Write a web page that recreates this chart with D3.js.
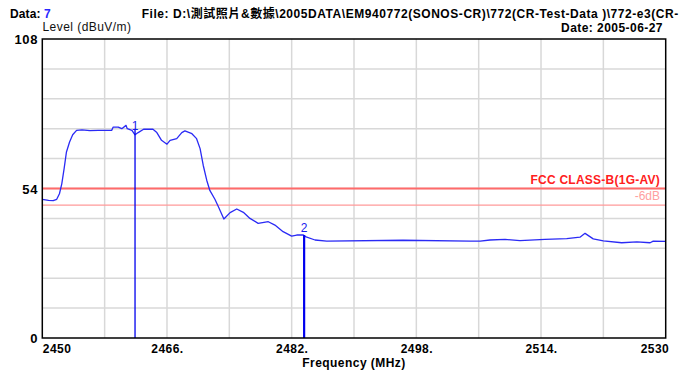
<!DOCTYPE html>
<html>
<head>
<meta charset="utf-8">
<script src="https://cdn.jsdelivr.net/npm/d3@7"></script>
<style>
  html, body { margin: 0; padding: 0; background: #fff; }
  svg { display: block; }
  text { font-family: "Liberation Sans", Arial, "Noto Sans CJK TC", sans-serif; }
</style>
</head>
<body>
<script>
// Measured field strength trace (frequency in MHz, level in dBuV/m)
const freq = [2450.0, 2450.8, 2451.4, 2451.85, 2452.2, 2452.5, 2452.8, 2453.1, 2453.5, 2453.9,
  2454.4, 2455.1, 2456.1, 2457.2, 2458.3, 2458.9, 2459.1, 2459.75, 2460.2, 2460.75,
  2460.9, 2461.5, 2461.9, 2462.3, 2463.0, 2463.6, 2464.2, 2464.7, 2465.3, 2466.0,
  2466.4, 2467.25, 2467.9, 2468.3, 2469.2, 2469.8, 2470.25, 2470.65, 2471.1, 2471.5,
  2472.15, 2472.6, 2473.3, 2474.1, 2474.95, 2475.8, 2476.65, 2477.7, 2479.0, 2479.85,
  2480.9, 2482.0, 2482.65, 2483.5, 2483.85, 2485.0, 2486.5, 2496.3, 2504.9, 2506.2,
  2507.45, 2509.4, 2511.3, 2514.5, 2517.3, 2519.0, 2519.65, 2520.7, 2522.0, 2524.35,
  2526.3, 2528.0, 2528.4, 2530.0];
const level = [50.1, 49.7, 49.6, 50.1, 52.1, 55.7, 61.2, 67.2, 70.8, 73.4,
  75.0, 75.2, 74.9, 75.0, 75.0, 75.0, 76.2, 76.2, 75.6, 76.8,
  75.6, 75.0, 73.4, 74.2, 75.4, 75.4, 75.4, 74.2, 71.4, 70.0,
  71.4, 72.0, 74.2, 74.8, 73.8, 72.0, 68.4, 62.4, 57.0, 53.3,
  50.1, 47.4, 43.0, 45.3, 46.6, 45.4, 43.2, 41.4, 42.0, 40.8,
  38.4, 36.8, 37.2, 37.2, 36.5, 35.4, 35.0, 35.3, 35.0, 35.0,
  35.4, 35.6, 35.2, 35.6, 35.9, 36.4, 37.8, 35.8, 35.1, 34.4,
  34.7, 34.4, 35.0, 34.9];

// Markers
const markerNames = ["1", "2"];
const markerFreq = [2461.9, 2483.6];
const markerLevel = [73.4, 37.2];

// Limit lines
const limitNames = ["FCC CLASS-B(1G-AV)", "-6dB"];
const limitLevel = [54, 48];

// Axis ticks
const xTicks = [2450, 2466, 2482, 2498, 2514, 2530];
const xTickLabels = ["2450", "2466.", "2482.", "2498.", "2514.", "2530"];
const yTicks = [0, 54, 108];
const xGrid = d3.range(2450, 2530.1, 8);
const yGrid = d3.range(0, 108.01, 10.8);

const W = 682, H = 374;
const x = d3.scaleLinear().domain([2450, 2530]).range([42.3, 665.7]);
const y = d3.scaleLinear().domain([0, 108]).range([338, 39]);

const svg = d3.select("body").append("svg").attr("width", W).attr("height", H);

// Shared bold label style
const bold = sel => sel.attr("font-size", 12).attr("font-weight", "bold")
  .attr("letter-spacing", 0.45).attr("fill", "#000");

// Header
const hdr = svg.append("text").attr("x", 10).attr("y", 18).call(bold)
  .attr("letter-spacing", 0.1);
hdr.append("tspan").attr("fill", "#000").text("Data: ");
hdr.append("tspan").attr("fill", "#2828ff").text("7");

// File path, as much as fits on the header line
svg.append("text").attr("x", 141.7).attr("y", 18).call(bold)
  .attr("textLength", 537).attr("lengthAdjust", "spacing")
  .text("File: D:\\測試照片&數據\\2005DATA\\EM940772(SONOS-CR)\\772(CR-Test-Data )\\772-e3(CR-");

svg.append("text").attr("x", 663).attr("y", 31.5).attr("text-anchor", "end").call(bold)
  .text("Date: 2005-06-27");

svg.append("text").attr("x", 42.5).attr("y", 31)
  .attr("font-size", 12).attr("letter-spacing", 0.45).attr("fill", "#111")
  .text("Level (dBuV/m)");

// Grid
const grid = svg.append("g").attr("stroke", "#d8d8d8").attr("stroke-width", 1.5);
grid.selectAll("line.vx").data(xGrid.slice(1, -1)).join("line")
  .attr("x1", d => x(d)).attr("x2", d => x(d)).attr("y1", y(0)).attr("y2", y(108));
grid.selectAll("line.hy").data(yGrid.slice(1, -1)).join("line")
  .attr("y1", d => y(d)).attr("y2", d => y(d)).attr("x1", x(2450)).attr("x2", x(2530));

// Limit lines
svg.append("line").attr("x1", x(2450)).attr("x2", x(2530))
  .attr("y1", y(limitLevel[0])).attr("y2", y(limitLevel[0]))
  .attr("stroke", "#ff6a6a").attr("stroke-width", 2);
svg.append("line").attr("x1", x(2450)).attr("x2", x(2530))
  .attr("y1", y(limitLevel[1])).attr("y2", y(limitLevel[1]))
  .attr("stroke", "#ff9a9a").attr("stroke-width", 1.2);

svg.append("text").attr("x", 660).attr("y", y(limitLevel[0]) - 4.5)
  .attr("text-anchor", "end").call(bold).attr("letter-spacing", 0.25)
  .attr("fill", "#ff2020").text(limitNames[0]);
svg.append("text").attr("x", 660).attr("y", y(limitLevel[1]) - 5)
  .attr("text-anchor", "end").attr("font-size", 12).attr("fill", "#ffa0a0")
  .text(limitNames[1]);

// Trace
const line = d3.line().x((d, i) => x(freq[i])).y((d, i) => y(level[i]));
svg.append("path").datum(level).attr("d", line)
  .attr("fill", "none").attr("stroke", "#2a2af5").attr("stroke-width", 1.3)
  .attr("stroke-linejoin", "round");

// Markers
markerFreq.forEach((f, i) => {
  svg.append("line").attr("x1", x(f)).attr("x2", x(f))
    .attr("y1", y(0)).attr("y2", y(markerLevel[i]) - (i === 0 ? 6 : 0))
    .attr("stroke", "#0000ee").attr("stroke-width", i === 0 ? 1.3 : 2.2);
  svg.append("text").attr("x", x(f)).attr("y", y(markerLevel[i]) - (i === 0 ? 4.5 : 3))
    .attr("text-anchor", "middle").attr("font-size", 12).attr("fill", "#1a1aee")
    .text(markerNames[i]);
});

// Plot frame
svg.append("rect").attr("x", x(2450)).attr("y", y(108))
  .attr("width", x(2530) - x(2450)).attr("height", y(0) - y(108))
  .attr("fill", "none").attr("stroke", "#000").attr("stroke-width", 1.5);

// X axis labels
const xAxis = d3.axisBottom(x).tickValues(xTicks).tickSize(0).tickPadding(0)
  .tickFormat((d, i) => xTickLabels[i]);
const gx = svg.append("g").attr("transform", `translate(0,${y(0)})`).call(xAxis);
gx.select(".domain").remove();
gx.selectAll("text")
  .attr("y", 15).attr("dy", 0).call(bold)
  .attr("font-family", "Liberation Sans, Arial, sans-serif")
  .attr("text-anchor", (d, i) => i === 0 ? "start" : (i === xTicks.length - 1 ? "end" : "middle"))
  .attr("dx", (d, i) => i === xTicks.length - 1 ? 3 : 0);

// Y axis labels
const yAxis = d3.axisLeft(y).tickValues(yTicks).tickSize(0).tickPadding(0)
  .tickFormat(d3.format("d"));
const gy = svg.append("g").attr("transform", `translate(38,0)`).call(yAxis);
gy.select(".domain").remove();
gy.selectAll("text")
  .attr("x", 0).attr("dy", "0.35em").call(bold)
  .attr("font-size", 13).attr("letter-spacing", 0.6)
  .attr("font-family", "Liberation Sans, Arial, sans-serif");

// X axis title
svg.append("text").attr("x", (x(2450) + x(2530)) / 2).attr("y", 367)
  .attr("text-anchor", "middle").call(bold).text("Frequency (MHz)");
</script>
</body>
</html>
